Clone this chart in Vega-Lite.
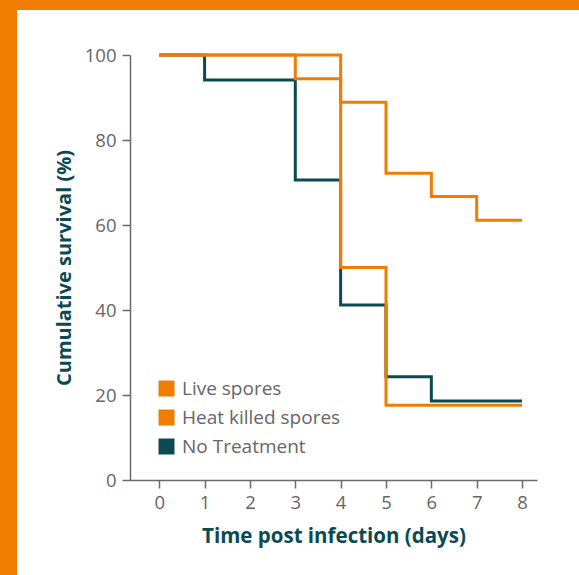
{
  "$schema": "https://vega.github.io/schema/vega-lite/v6.json",
  "width": 562,
  "height": 565,
  "autosize": {"type": "none"},
  "padding": {"left": 17, "top": 10, "right": 0, "bottom": 0},
  "background": "#F07D00",
  "config": {
    "view": {"fill": "white", "stroke": null},
    "font": "Open Sans",
    "axis": {
      "domainColor": "#6b6b6b",
      "domainWidth": 1.5,
      "tickColor": "#6b6b6b",
      "tickWidth": 1.5,
      "tickSize": 8,
      "labelColor": "#666666",
      "labelFontSize": 18.5,
      "labelFont": "Open Sans",
      "titleColor": "#0B4A52",
      "titleFontWeight": "bold",
      "titleFont": "Open Sans",
      "grid": false
    }
  },
  "data": {
    "values": [
      {"day": 0, "survival": 100, "group": "No Treatment"},
      {"day": 1, "survival": 94.1, "group": "No Treatment"},
      {"day": 2, "survival": 94.1, "group": "No Treatment"},
      {"day": 3, "survival": 70.6, "group": "No Treatment"},
      {"day": 4, "survival": 41.2, "group": "No Treatment"},
      {"day": 5, "survival": 24.3, "group": "No Treatment"},
      {"day": 6, "survival": 18.6, "group": "No Treatment"},
      {"day": 7, "survival": 18.6, "group": "No Treatment"},
      {"day": 8, "survival": 18.6, "group": "No Treatment"},
      {"day": 0, "survival": 100, "group": "Heat killed spores"},
      {"day": 1, "survival": 100, "group": "Heat killed spores"},
      {"day": 2, "survival": 100, "group": "Heat killed spores"},
      {"day": 3, "survival": 94.4, "group": "Heat killed spores"},
      {"day": 4, "survival": 50, "group": "Heat killed spores"},
      {"day": 5, "survival": 17.6, "group": "Heat killed spores"},
      {"day": 6, "survival": 17.6, "group": "Heat killed spores"},
      {"day": 7, "survival": 17.6, "group": "Heat killed spores"},
      {"day": 8, "survival": 17.6, "group": "Heat killed spores"},
      {"day": 0, "survival": 100, "group": "Live spores"},
      {"day": 1, "survival": 100, "group": "Live spores"},
      {"day": 2, "survival": 100, "group": "Live spores"},
      {"day": 3, "survival": 100, "group": "Live spores"},
      {"day": 4, "survival": 88.9, "group": "Live spores"},
      {"day": 5, "survival": 72.2, "group": "Live spores"},
      {"day": 6, "survival": 66.7, "group": "Live spores"},
      {"day": 7, "survival": 61.1, "group": "Live spores"},
      {"day": 8, "survival": 61.1, "group": "Live spores"}
    ]
  },
  "mark": {"type": "line", "interpolate": "step-after", "strokeWidth": 3},
  "encoding": {
    "x": {
      "field": "day",
      "type": "quantitative",
      "scale": {"domain": [-0.645, 8.33], "nice": false, "zero": false, "range": [113, 520]},
      "axis": {
        "values": [0, 1, 2, 3, 4, 5, 6, 7, 8],
        "title": "Time post infection (days)",
        "titleFontSize": 20.5,
        "offset": -95,
        "labelPadding": 5,
        "titlePadding": 15
      }
    },
    "y": {
      "field": "survival",
      "type": "quantitative",
      "scale": {"domain": [0, 100], "nice": false, "range": [470, 45]},
      "axis": {
        "values": [0, 20, 40, 60, 80, 100],
        "title": "Cumulative survival (%)",
        "titleFontSize": 20,
        "titleLimit": 600,
        "offset": -113,
        "labelPadding": 6,
        "titlePadding": 10
      }
    },
    "color": {
      "field": "group",
      "type": "nominal",
      "sort": ["Live spores", "Heat killed spores", "No Treatment"],
      "scale": {
        "domain": ["Live spores", "Heat killed spores", "No Treatment"],
        "range": ["#F07D00", "#F07D00", "#0B4A52"]
      },
      "legend": {
        "title": null,
        "orient": "none",
        "legendX": 140,
        "legendY": 369,
        "padding": 0,
        "symbolType": "square",
        "symbolSize": 256,
        "symbolStrokeWidth": 0,
        "labelFontSize": 19,
        "labelColor": "#666666",
        "labelFont": "Open Sans",
        "labelOffset": 6,
        "rowPadding": 9,
        "encode": {
          "symbols": {
            "update": {
              "fill": {"scale": "color", "field": "value"},
              "fillOpacity": {"value": 1},
              "strokeWidth": {"value": 0}
            }
          }
        }
      }
    },
    "order": {"field": "day"}
  }
}
